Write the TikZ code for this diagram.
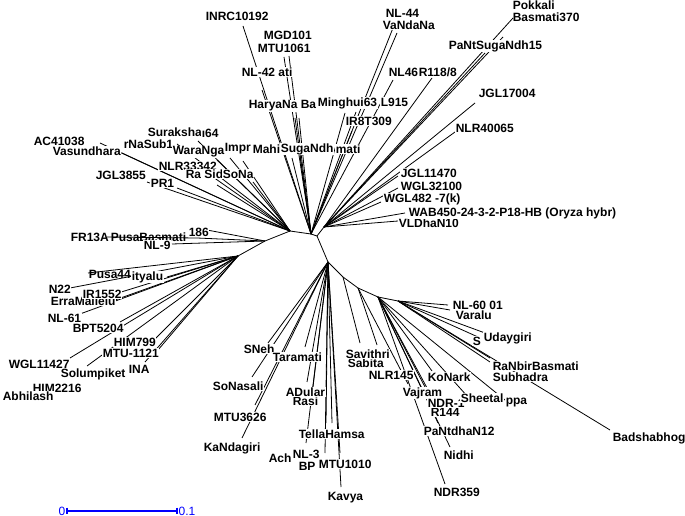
\documentclass[tikz,border=0pt]{standalone}
\usepackage{fontspec}
\setmainfont{Liberation Sans}
\newcommand\leafto[3]{\coordinate (e#2) at (#3); \draw[br] (#1) -- (e#2);}
\begin{document}
\begin{tikzpicture}[x=0.75pt,y=-0.75pt,
  br/.style={line width=0.6pt},
  lab/.style={anchor=west,font=\bfseries\fontsize{9}{10}\selectfont,fill=white,inner sep=0.4pt},
  labc/.style={anchor=west,font=\bfseries\fontsize{9}{10}\selectfont,inner sep=0.4pt},
  sc/.style={blue,font=\fontsize{9}{10}\selectfont,inner sep=1pt}]
\useasboundingbox[fill=white] (0,0) rectangle (685,516);
% hubs
\coordinate (nLL) at (265,241);
\coordinate (sLL) at (238,256);
\coordinate (nL) at (290,231);
\coordinate (nT) at (311,234);
\coordinate (nC) at (317,236);
\coordinate (nR) at (324,227);
\coordinate (nB) at (328,262);
\coordinate (b1) at (343,277);
\coordinate (b2) at (358,288);
\coordinate (b3) at (378,297);
\coordinate (b4) at (398,301);
\draw[br] (sLL) -- (nLL) -- (nL) -- (nT) -- (nC) -- (nR);
\draw[br] (nC) -- (nB) -- (b1) -- (b2) -- (b3) -- (b4);
% top cluster
\leafto{nT}{INRC}{243,26}
\leafto{nT}{NLfortytwo}{262,90}
\leafto{nT}{MGD}{284,57}
\leafto{nT}{MTUa}{289,56}
\leafto{nT}{HarA}{295,118}
\leafto{nT}{HarB}{299,118}
\leafto{nT}{Suga}{292,158}
\leafto{nT}{Mati}{300,156}
\leafto{nT}{Ming}{345,113}
\leafto{nT}{IReight}{352,131}
\leafto{nT}{Lnine}{356,112}
\leafto{nT}{NLfortyfour}{393,28}
\leafto{nT}{Vanda}{397,33}
\leafto{nT}{NLfortysix}{393,80}
% right cluster
\leafto{nR}{Pok}{513,18}
\leafto{nR}{Bas}{503,37}
\leafto{nR}{PST}{485,53}
\leafto{nR}{Ronee}{432,78}
\leafto{nR}{JGLa}{475,103}
\leafto{nR}{NLRf}{455,132}
\leafto{nR}{JGLb}{398,176}
\leafto{nR}{WGLa}{398,188}
\leafto{nR}{WGLb}{381,202}
\leafto{nR}{WAB}{405,213}
\leafto{nR}{VLD}{398,221}
% upper-left cluster
\leafto{nL}{AC}{100,143}
\leafto{nL}{Vas}{122,153}
\leafto{nL}{rNa}{177,144}
\leafto{nL}{Sur}{198,141}
\leafto{nL}{Wara}{217,160}
\leafto{nL}{Impr}{230,158}
\leafto{nL}{Mahi}{243,161}
\leafto{nL}{NLRt}{203,170}
\leafto{nL}{RaSi}{217,185}
\leafto{nL}{SoNa}{253,182}
\leafto{nL}{JGLc}{147,182}
\leafto{nL}{PRo}{177,188}
% lower-left cluster
\leafto{nLL}{Oes}{207,230}
\leafto{nLL}{NLnine}{172,244}
\leafto{sLL}{ity}{167,277}
\leafto{sLL}{Ntt}{70,288}
\leafto{sLL}{IRff}{118,293}
\leafto{sLL}{Erra}{115,300}
\leafto{sLL}{NLsixone}{80,314}
\leafto{sLL}{BPT}{120,322}
\leafto{sLL}{HIMs}{155,339}
\leafto{sLL}{MTUb}{158,350}
\leafto{sLL}{WGLc}{70,358}
\leafto{sLL}{Sol}{87,366}
\leafto{sLL}{INA}{145,362}
% bottom cluster
\leafto{nB}{SNeh}{268,343}
\leafto{nB}{SoNas}{252,377}
\leafto{nB}{MTUc}{255,405}
\leafto{nB}{KaN}{242,438}
\leafto{nB}{ADu}{307,382}
\leafto{nB}{Rasi}{312,395}
\leafto{nB}{NLthree}{306,443}
\leafto{nB}{BP}{325,453}
\leafto{nB}{TelA}{326,423}
\leafto{nB}{TelB}{332,423}
\leafto{nB}{MTUd}{340,453}
\leafto{nB}{Kav}{341,487}
\leafto{b1}{Sav}{360,343}
\leafto{b2}{Sab}{377,345}
\leafto{b2}{NLRof}{408,384}
\leafto{b3}{Vaj}{425,387}
\leafto{b3}{KoN}{432,371}
\leafto{b3}{PaNt}{438,423}
\leafto{b3}{NDRt}{445,484}
\leafto{b3}{Nid}{450,447}
\leafto{b3}{Rof}{440,412}
\leafto{b3}{She}{468,397}
\leafto{b3}{ppa}{505,400}
\leafto{b4}{NLsixty}{448,305}
\leafto{b4}{Var}{450,310}
\leafto{b4}{Uday}{485,333}
\leafto{b4}{Sx}{478,337}
\leafto{b4}{RaN}{490,358}
\leafto{b4}{Sub}{490,362}
\leafto{b4}{Bad}{610,430}
% labels: top
\node[lab] (lINRC) at (205,16) {INRC10192};
\node[lab] (lMGD) at (263,35) {MGD101};
\node[lab] (lMTUa) at (257,48) {MTU1061};
\node[lab] (lNL42) at (241,72) {NL-42 ati};
\node[lab] (lHar) at (248,106) {HaryaNa Ba:};
\node[lab] (lMing) at (317,103) {Minghui63};
\node[lab] (lL9) at (380,102) {L915};
\node[lab] (lIR8) at (345,121) {IR8T309};
\node[lab] (lImpr) at (224,149) {Impr};
\node[lab] (lMahi) at (252,149) {Mahi};
\node[lab] (lSuga) at (280,149) {SugaNdh};
\node[lab] (lMati) at (335,149) {mati};
\node[lab] (lNL44) at (385,13) {NL-44};
\node[lab] (lVanda) at (382,25) {VaNdaNa};
\node[lab] (lNL46) at (388,72) {NL46};
\node[lab] (lR118) at (418,72) {R118/8};
\node[lab] (lPST) at (448,46) {PaNtSugaNdh15};
\node[labc] (lPok) at (512,5) {Pokkali};
\node[labc] (lBas) at (512,17) {Basmati370};
\node[lab] (lJGLa) at (478,93) {JGL17004};
\node[lab] (lNLRf) at (455,128) {NLR40065};
\node[lab] (lJGLb) at (400,173) {JGL11470};
\node[lab] (lWGLa) at (400,186) {WGL32100};
\node[lab] (lWGLb) at (383,199) {WGL482 -7(k)};
\node[lab] (lVLD) at (398,223) {VLDhaN10};
\node[lab] (lWAB) at (408,213) {WAB450-24-3-2-P18-HB (Oryza hybr)};
% upper-left
\node[lab] (lSur) at (147,132) {Suraksha};
\node[lab] (lSf) at (201,133) {ı64};
\node[lab] (lAC) at (33,141) {AC41038};
\node[lab] (lVas) at (52,151) {Vasundhara};
\node[lab] (lrNa) at (123,144) {rNaSub1};
\node[lab] (lWara) at (172,152) {WaraNga};
\node[lab] (lNLRt) at (158,166) {NLR33342};
\node[lab] (lPRo) at (150,183) {PR1};
\node[lab] (lJGLc) at (95,175) {JGL3855};
\node[lab] (lRaSi) at (185,174) {Ra Sidi};
\node[lab] (lSoNa) at (222,174) {SoNa};
% lower-left
\node[lab] (lOes) at (188,232) {186};
\node[lab] (lFR) at (70,237) {FR13A};
\node[labc] (lPB) at (110,237) {PusaBasmati};
\node[lab] (lNL9) at (143,245) {NL-9};
\node[lab] (lity) at (131,277) {ityalu};
\node[labc] (lP44) at (88,274) {Pusa44};
\node[lab] (lErra) at (50,301) {ErraMallelu};
\node[lab] (lN22) at (48,289) {N22};
\node[lab] (lIR15) at (82,294) {IR1552};
\node[lab] (lNL61) at (47,318) {NL-61};
\node[lab] (lBPT) at (72,328) {BPT5204};
\node[lab] (lHIM7) at (113,342) {HIM799};
\node[lab] (lMTUb) at (102,353) {MTU-1121};
\node[lab] (lWGLc) at (8,364) {WGL11427};
\node[lab] (lINA) at (128,369) {INA};
\node[lab] (lSol) at (60,374) {Solumpiket};
\node[lab] (lHIM2) at (32,388) {HIM2216};
\node[lab] (lAbh) at (2,396) {Abhilash};
% bottom
\node[lab] (lSNeh) at (243,349) {SNeh};
\node[lab] (lTara) at (272,357) {Taramati};
\node[lab] (lSoNas) at (212,386) {SoNasali};
\node[lab] (lMTUc) at (213,417) {MTU3626};
\node[lab] (lKaN) at (203,448) {KaNdagiri};
\node[lab] (lRasi) at (292,401) {Rasi};
\node[lab] (lADu) at (285,392) {ADular};
\node[lab] (lTel) at (298,434) {TellaHamsa};
\node[lab] (lBP) at (298,466) {BP};
\node[lab] (lAch) at (268,458) {Ach};
\node[lab] (lNL3) at (292,454) {NL-3};
\node[lab] (lMTUd) at (318,464) {MTU1010};
\node[lab] (lKav) at (327,498) {Kavya};
\node[lab] (lSab) at (347,363) {Sabita};
\node[lab] (lSav) at (345,354) {Savithri};
\node[lab] (lNLRof) at (368,375) {NLR145};
\node[lab] (lKoN) at (427,377) {KoNark};
\node[lab] (lVaj) at (402,393) {Vajram};
\node[lab] (lRof) at (430,412) {R144};
\node[lab] (lNDRo) at (427,403) {NDR-1};
\node[lab] (lppa) at (505,403) {ppa};
\node[lab] (lShe) at (460,398) {Sheetal};
\node[lab] (lPaNt) at (423,431) {PaNtdhaN12};
\node[lab] (lNid) at (443,455) {Nidhi};
\node[lab] (lNDRt) at (433,492) {NDR359};
\node[lab] (lVar) at (455,315) {Varalu};
\node[lab] (lNL60) at (452,305) {NL-60 01};
\node[lab] (lS) at (472,341) {S};
\node[lab] (lUday) at (483,338) {Udaygiri};
\node[lab] (lSub) at (492,377) {Subhadra};
\node[lab] (lRaN) at (492,366) {RaNbirBasmati};
\node[lab] (lBad) at (612,438) {Badshabhog};
% lines drawn over labels
\coordinate (eFR) at (107,237);
\coordinate (ePB) at (197,238);
\draw[br] (nLL) -- (ePB) -- (eFR);
\leafto{sLL}{Pfour}{88,273}
\leafto{nB}{Tara}{305,347}
% scale bar
\coordinate (s0) at (67,511);
\coordinate (s1) at (177,511);
\draw[blue,line width=0.8pt] (s0) -- (s1);
\draw[blue,line width=0.8pt] ([yshift=2.5pt]s0) -- ([yshift=-2.5pt]s0);
\draw[blue,line width=0.8pt] ([yshift=2.5pt]s1) -- ([yshift=-2.5pt]s1);
\node[sc,anchor=east] (z0) at (s0) {0};
\node[sc,anchor=west] (z1) at (s1) {0.1};
\end{tikzpicture}
\end{document}
